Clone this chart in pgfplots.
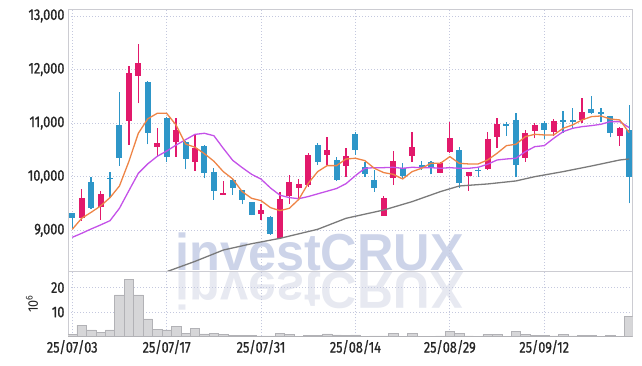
\documentclass[border=0pt]{standalone}
\usepackage{pgfplots}
\pgfplotsset{compat=1.18}
\usepackage{pgfplotstable}
\usepackage{graphicx}
\usepackage{fontspec}
\setmainfont{Fira Sans}[FakeStretch=0.82, FakeBold=0.8]
\newfontfamily\plainfont{Fira Sans}[FakeStretch=0.9]
\newfontfamily\wmfont{Liberation Sans}
\definecolor{upc}{HTML}{E2196B}
\definecolor{dnc}{HTML}{2E96C8}
\definecolor{maf}{HTML}{EE8446}
\definecolor{mat}{HTML}{C452E8}
\definecolor{mas}{HTML}{7A7A7A}
\definecolor{gridc}{HTML}{C4C8DE}
\definecolor{framec}{HTML}{CCCCD2}
\definecolor{wm}{HTML}{CDD4E9}
\definecolor{wmr}{HTML}{E7E9F1}
\definecolor{volf}{HTML}{D6D6D8}
\definecolor{vold}{HTML}{B2B2B6}
\definecolor{txt}{HTML}{262626}

\pgfplotstableread{
i o h l c
1 9224 9765 9174 9603
3 9442 9740 9193 9678
6 11046 12060 10592 11936
7 11886 12483 11370 12116
9 10561 10903 10375 10636
11 10655 11090 10375 10872
13 10281 10779 10113 10530
16 9659 9927 9659 9690
20 9299 9485 9193 9379
22 8863 9709 8851 9578
23 9647 10033 9491 9896
24 9796 9952 9578 9858
25 9846 10437 9815 10406
27 10406 10748 10219 10493
29 10200 10543 10001 10387
33 9274 9647 9274 9610
34 9970 10487 9846 10294
36 10393 10841 10281 10549
39 10076 10281 10064 10250
40 10468 11028 10437 10717
42 10020 10082 9734 10082
44 10138 10829 10126 10704
45 10748 11090 10543 10984
48 10356 10872 10281 10810
49 10860 10997 10717 10966
51 10841 11077 10766 11040
54 11059 11463 10997 11202
58 10766 10934 10574 10903
}\upT

\pgfplotstableread{
i o h l c
0 9317 9330 9037 9224
2 9902 10001 9398 9423
4 9983 10082 9610 9964
5 10966 11575 10207 10356
8 11768 11780 10605 10822
10 11090 11115 10281 10375
12 10648 10660 10138 10337
14 10574 10585 9970 10064
15 10095 10157 9566 9740
17 9939 9983 9659 9784
18 9753 9760 9485 9566
19 9522 9535 9280 9286
21 9255 9260 8920 8925
26 10592 10636 10219 10281
28 10312 10375 9921 9939
30 10798 10841 10406 10499
31 10188 10281 10001 10045
32 9939 10126 9722 9784
35 10157 10250 9952 10020
37 10219 10300 10126 10157
38 10269 10294 10045 10157
41 10499 10561 9796 9890
43 10126 10157 10001 10113
46 10984 11028 10760 10953
47 11059 11183 9989 10219
50 11009 11040 10704 10872
52 11059 11233 10810 11028
53 11059 11289 10903 11028
55 11264 11507 11165 11196
56 11208 11289 11015 11177
57 11133 11140 10735 10822
59 10872 11339 9504 10001
}\dnT

\pgfplotstableread{
i f t v
0 9019 8869 0.8
1 9224 8944 4.6
2 9336 9025 2.7
3 9454 9100 1.8
4 9610 9180 2.7
5 9827 9411 17.0
6 10285 9740 23.5
7 10810 10064 17.0
8 11080 10240 7.2
9 11183 10380 3.0
10 11183 10479 2.7
11 10964 10590 4.2
12 10610 10690 1.2
13 10550 10790 3.4
14 10430 10810 1.1
15 10290 10765 1.4
16 10095 10530 0.8
17 9958 10305 0.5
18 9722 10170 0.4
19 9597 10045 0.5
20 9554 9955 0.3
21 9423 9790 0.3
22 9367 9655 1.4
23 9411 9610 1.0
24 9578 9590 0.2
25 9877 9630 0.5
26 10095 9680 0.5
27 10207 9730 1.1
28 10207 9780 0.7
29 10331 9870 0.4
30 10344 10020 0.7
31 10300 10157 0.1
32 10157 10169 0.3
33 10076 10169 0.3
34 10045 10176 1.4
35 9958 10157 0.2
36 10095 10176 1.4
37 10157 10169 0.2
38 10250 10169 0.2
39 10250 10157 0.3
40 10375 10169 2.1
41 10250 10157 1.2
42 10238 10157 0.3
43 10238 10176 0.1
44 10312 10232 0.8
45 10437 10312 0.8
46 10580 10331 0.1
47 10605 10344 2.1
48 10748 10468 1.0
49 10791 10561 0.5
50 10779 10580 0.5
51 10779 10717 0.3
52 10903 10841 0.8
53 10966 10903 0.3
54 11059 10934 0.5
55 11121 10953 0.5
56 11133 10978 0.1
57 11077 11028 0.4
58 11059 11028 0.1
59 10822 10916 8.2
}\maT

\pgfplotstableread{
i s
10 8228
13 8420
16 8632
19 8750
22 8850
26 9019
29 9224
33 9379
36 9535
39 9722
41 9827
44 9865
47 9921
49 10001
52 10095
55 10200
58 10312
59 10331
}\msT

\pgfplotsset{
  candlebase/.style={
    scale only axis, width=564.5pt,
    xmin=-0.45, xmax=59.35,
    xtick={0,10,20,30,40,50},
    major tick length=0pt,
    grid=major,
    grid style={gridc, dash pattern=on 1pt off 2pt, line width=0.7pt},
    axis line style={framec, line width=0.8pt},
    ticklabel style={font=\fontsize{15.5}{16}\selectfont, text=txt},
    scaled y ticks=false,
    /pgf/number format/assume math mode=true,
    /pgf/number format/1000 sep={,},
  },
  wick/.style={draw=none, no markers, forget plot,
    error bars/.cd, y dir=plus, y explicit, error mark=none,
    error bar style={line width=1.3pt, #1}},
  body/.style={draw=none, no markers, forget plot,
    error bars/.cd, y dir=both, y explicit, error mark=none,
    error bar style={line width=6pt, #1}},
}

\begin{document}
\begin{tikzpicture}[x=1pt,y=1pt]
\useasboundingbox (0,0) rectangle (642,366);
\node[anchor=base west, inner sep=0pt, text=wm] at (175,95.5)
  {\scalebox{0.97}[1]{\wmfont\bfseries\fontsize{52}{52}\selectfont investCRUX}};
\node[anchor=base west, inner sep=0pt, text=wmr] at (175,93)
  {\scalebox{0.97}[-1]{\wmfont\bfseries\fontsize{52}{52}\selectfont investCRUX}};

\begin{axis}[candlebase,
  at={(68pt,94.3pt)}, anchor=south west,
  height=262.7pt,
  ymin=8228, ymax=13129,
  xticklabels={},
  ytick={9000,10000,11000,12000,13000},
]
\addplot[wick=upc] table[x=i, y=l, y error expr=\thisrow{h}-\thisrow{l}] {\upT};
\addplot[wick=dnc] table[x=i, y=l, y error expr=\thisrow{h}-\thisrow{l}] {\dnT};
\addplot[body=upc] table[x=i, y expr=(\thisrow{o}+\thisrow{c})/2, y error expr={max(abs(\thisrow{c}-\thisrow{o})/2,10)}] {\upT};
\addplot[body=dnc] table[x=i, y expr=(\thisrow{o}+\thisrow{c})/2, y error expr={max(abs(\thisrow{c}-\thisrow{o})/2,10)}] {\dnT};
\addplot[mas, line width=1.3pt, forget plot] table[x=i, y=s] {\msT};
\addplot[mat, line width=1.3pt, forget plot] table[x=i, y=t] {\maT};
\addplot[maf, line width=1.3pt, forget plot] table[x=i, y=f] {\maT};
\end{axis}

\begin{axis}[candlebase,
  at={(68pt,29.5pt)}, anchor=south west,
  height=64.8pt,
  ymin=0, ymax=26.5,
  ytick={10,20},
  xticklabels={25/07/03,25/07/17,25/07/31,25/08/14,25/08/29,25/09/12},
  ylabel={10\textsuperscript{6}},
  ylabel style={at={(axis description cs:-0.0638,0.5)}, anchor=center,
    font=\plainfont\fontsize{14}{14}\selectfont, text=txt},
]
\addplot[ybar, bar width=1, bar shift=0pt, fill=volf, draw=vold, line width=0.5pt]
  table[x=i, y=v] {\maT};
\end{axis}
\end{tikzpicture}
\end{document}
